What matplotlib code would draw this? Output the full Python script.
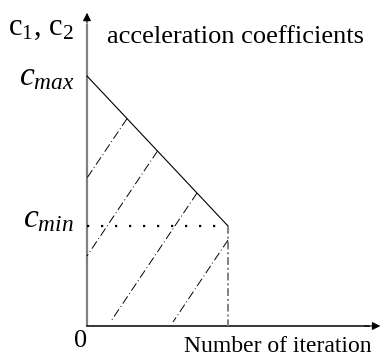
import matplotlib.pyplot as plt

plt.rcParams['font.family'] = ['Liberation Serif', 'DejaVu Serif']
plt.rcParams['mathtext.fontset'] = 'custom'
plt.rcParams['mathtext.rm'] = 'Liberation Serif'
plt.rcParams['mathtext.it'] = 'Liberation Serif:italic'

# schedule of the acceleration coefficients
c_max = 2.5
c_min = 1.0
t_max = 1.0

# dash-dot hatch segments (x_top, y_top, x_bottom, y_bottom)
hatch_x_top = [0.284, 0.50, 0.78, 1.0]
hatch_y_top = [2.074, 1.75, 1.33, 0.86]
hatch_x_bot = [0.0, 0.0, 0.166, 0.61]
hatch_y_bot = [1.48, 0.70, 0.04, 0.04]

fig = plt.figure(figsize=(3.8, 3.58), dpi=100)
ax = fig.add_axes([0, 0, 1, 1])
ax.set_xlim(-0.617, 2.078)
ax.set_ylim(-0.32, 3.26)
ax.axis('off')

# axes
ax.plot([0, 0], [0, 3.02], color='#808080', lw=1.6, solid_capstyle='butt')
ax.annotate('', xy=(0, 3.16), xytext=(0, 3.0), annotation_clip=False,
            arrowprops=dict(arrowstyle='-|>', color='black', lw=0.8, mutation_scale=12))
ax.plot([0, 2.0], [0, 0], color='black', lw=1.1)
ax.annotate('', xy=(2.1, 0), xytext=(1.95, 0), annotation_clip=False,
            arrowprops=dict(arrowstyle='-|>', color='black', lw=0.8, mutation_scale=12))

# decreasing coefficient
ax.plot([0, t_max], [c_max, c_min], color='black', lw=0.8)
ax.plot([0, t_max], [c_min, c_min], color='black', lw=1.6, linestyle=(0, (1, 5.3)))
ax.plot([t_max, t_max], [c_min, 0], color='#808080', lw=1.4, linestyle=(0, (4, 1.5, 1, 1.5)))

for xt, yt, xb, yb in zip(hatch_x_top, hatch_y_top, hatch_x_bot, hatch_y_bot):
    ax.plot([xt, xb], [yt, yb], color='black', lw=0.7, linestyle=(0, (9, 3, 1, 3)))

# labels
ax.text(-0.56, 2.91, r'$\mathrm{c}_1$, $\mathrm{c}_2$', fontsize=22, va='baseline', ha='left')
ax.text(0.142, 2.83, 'acceleration coefficients', fontsize=19, va='baseline', ha='left')
ax.text(-0.085, 2.41, r'$c_{max}$', fontsize=24, va='baseline', ha='right')
ax.text(-0.092, 0.99, r'$c_{min}$', fontsize=24, va='baseline', ha='right')
ax.text(-0.043, -0.21, '0', fontsize=19, va='baseline', ha='center')
ax.text(2.02, -0.26, 'Number of iteration', fontsize=17, va='baseline', ha='right')

fig.savefig('out.png', dpi=100)
